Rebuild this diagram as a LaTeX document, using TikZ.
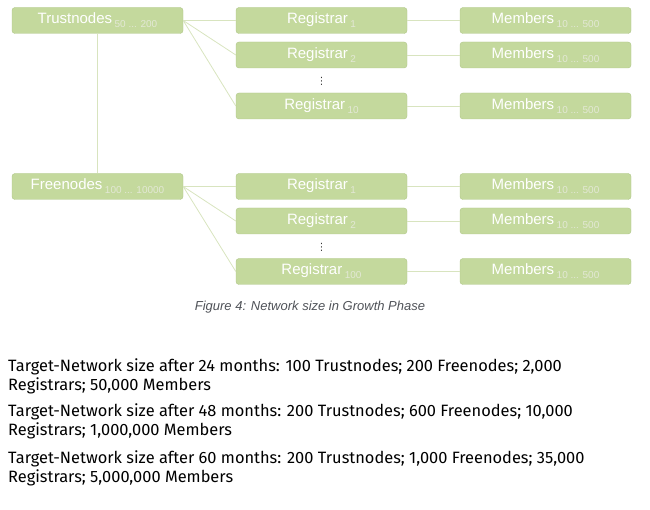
\documentclass[tikz,border=0pt]{standalone}
\usepackage{fontspec}
\setmainfont{Liberation Sans}
\newfontfamily\bodyfont{Fira Sans}
\newfontfamily\dotfont{DejaVu Sans}
\usepackage{tikz}
\usetikzlibrary{positioning}

\definecolor{boxgreen}{HTML}{C4D99D}
\definecolor{boxedge}{HTML}{AFC688}
\definecolor{linkgreen}{HTML}{D8E4BF}
\definecolor{subgray}{HTML}{E3E8D5}
\definecolor{capgray}{HTML}{4F5258}
\newcommand{\cnt}[1]{\,\raisebox{-4pt}{\fontsize{10}{12}\selectfont\color{subgray}#1}}

\begin{document}
\begin{tikzpicture}[x=1pt,y=-1pt,
    level/.style={draw=boxedge,fill=boxgreen,rounded corners=3pt,
        minimum width=171pt,minimum height=26pt,inner sep=0pt,
        text=white,font=\fontsize{15}{18}\selectfont},
    link/.style={draw=linkgreen,line width=0.8pt},
    gap/.style={inner sep=0pt,text=black!80,font=\dotfont\fontsize{10}{10}\selectfont},
    para/.style={anchor=base west,align=left,inner sep=0pt,
        font=\bodyfont\fontsize{16.4}{19}\selectfont}]
\useasboundingbox (0,0) rectangle (650,510);

% top group
\node[level] (trust) at (97.5,20.5) {Trustnodes\cnt{50 ... 200}};
\node[level] (regA1) at (321.5,20.5) {Registrar\cnt{1}};
\node[level] (regA2) at (321.5,55) {Registrar\cnt{2}};
\node[gap] (dotsA) at (321.5,81) {⋮};
\node[level] (regA3) at (321.5,106) {Registrar\cnt{10}};
\node[level] (memA1) at (545.5,20.5) {Members\cnt{10 ... 500}};
\node[level] (memA2) at (545.5,55) {Members\cnt{10 ... 500}};
\node[level] (memA3) at (545.5,106) {Members\cnt{10 ... 500}};

% bottom group
\node[level] (free) at (97.5,186.5) {Freenodes\cnt{100 ... 10000}};
\node[level] (regB1) at (321.5,186.5) {Registrar\cnt{1}};
\node[level] (regB2) at (321.5,221) {Registrar\cnt{2}};
\node[gap] (dotsB) at (321.5,247) {⋮};
\node[level] (regB3) at (321.5,271.5) {Registrar\cnt{100}};
\node[level] (memB1) at (545.5,186.5) {Members\cnt{10 ... 500}};
\node[level] (memB2) at (545.5,221) {Members\cnt{10 ... 500}};
\node[level] (memB3) at (545.5,271.5) {Members\cnt{10 ... 500}};

% connectors
\draw[link] (trust) -- (free);
\foreach \g/\top in {A/trust,B/free} {
  \foreach \i in {1,2,3} {
    \draw[link] (\top.east) -- (reg\g\i.west);
    \draw[link] (reg\g\i) -- (mem\g\i);
  }
}

\node[text=capgray,font=\itshape\fontsize{13}{15}\selectfont] (caption) at (310,307)
  {Figure 4: Network size in Growth Phase};

% base anchor sits on the last line
\node[para] (t24) at (8,390)
  {Target-Network size after 24 months: 100 Trustnodes; 200 Freenodes; 2,000\\
   Registrars; 50,000 Members};
\node[para] (t48) at (8,435)
  {Target-Network size after 48 months: 200 Trustnodes; 600 Freenodes; 10,000\\
   Registrars; 1,000,000 Members};
\node[para] (t60) at (8,482)
  {Target-Network size after 60 months: 200 Trustnodes; 1,000 Freenodes; 35,000\\
   Registrars; 5,000,000 Members};
\end{tikzpicture}
\end{document}
